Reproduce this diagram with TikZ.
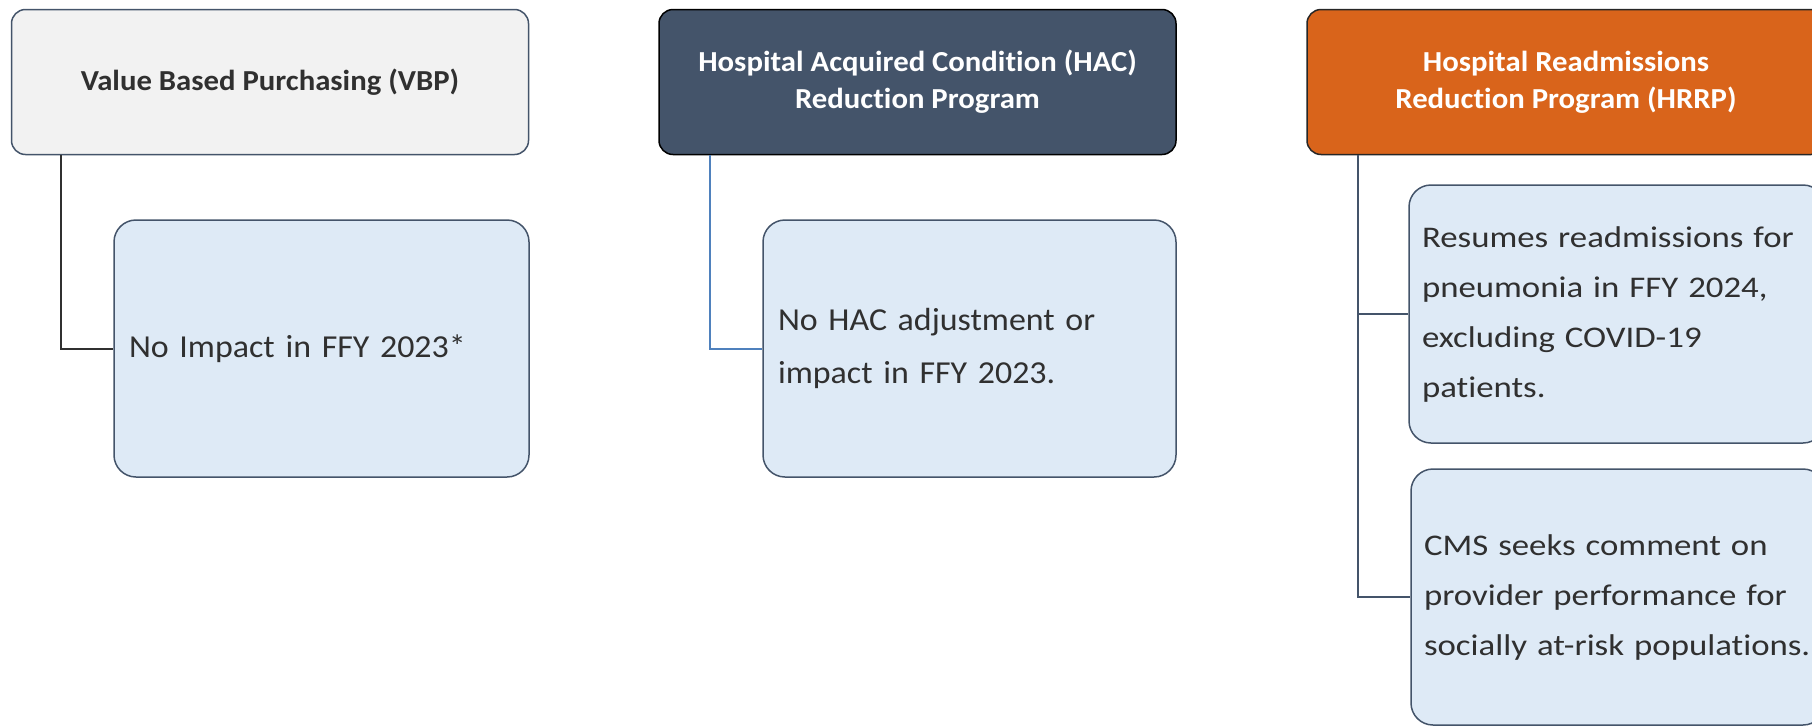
\documentclass[tikz,border=0pt]{standalone}
\usepackage{fontspec}
\setmainfont{Carlito}[Ligatures=NoCommon]
\newfontfamily\plainwide{Carlito}[FakeStretch=1.06, Ligatures=NoCommon]
\newfontfamily\extrawide{Carlito}[FakeStretch=1.16, Ligatures=NoCommon]
\usepackage{xcolor}
\usetikzlibrary{positioning}

\definecolor{slate}{HTML}{44546A}
\definecolor{paleblue}{HTML}{DEEAF6}
\definecolor{palegray}{HTML}{F2F2F2}
\definecolor{burnt}{HTML}{D9641B}
\definecolor{ink}{HTML}{303030}
\definecolor{hacblue}{HTML}{4F81BD}

\tikzset{
  headbox/.style={draw, rounded corners=14pt, line width=1.5pt, minimum height=145pt,
    align=center, font=\plainwide\bfseries\fontsize{29}{37}\selectfont},
  leafbox/.style={draw=slate, fill=paleblue, rounded corners=22pt, line width=1.5pt,
    text=ink, align=left, inner xsep=15pt, font=\plainwide\fontsize{32}{53}\selectfont},
  wideleaf/.style={leafbox, inner xsep=13pt, font=\extrawide\fontsize{30}{50}\selectfont},
  branch/.style={line width=2pt}
}

\begin{document}
\begin{tikzpicture}[x=1pt,y=-1pt]
  \clip (0,0) rectangle (1812,726);
  \useasboundingbox (0,0) rectangle (1812,726);

  % top row
  \node[headbox, draw=slate, fill=palegray, text=ink, minimum width=517pt] (vbp) at (270,82)
    {Value Based Purchasing (VBP)};
  \node[headbox, draw=black, fill=slate, text=white, minimum width=517pt] (hac) at (917.5,82)
    {Hospital Acquired Condition (HAC)\\Reduction Program};
  \node[headbox, draw=black!85, fill=burnt, text=white, minimum width=518pt] (hrrp) at (1566,82)
    {Hospital Readmissions\\Reduction Program (HRRP)};

  % leaves
  \node[leafbox, minimum width=415pt, minimum height=257pt, text width=385pt] (vbpleaf) at (321.5,348.5)
    {No Impact in FFY 2023*};
  \node[leafbox, minimum width=413pt, minimum height=257pt, text width=383pt] (hacleaf) at (969.5,348.5)
    {No HAC adjustment or\\impact in FFY 2023.};
  \node[wideleaf, minimum width=416pt, minimum height=258pt, text width=390pt] (hrrpa) at (1617,314)
    {Resumes readmissions for\\pneumonia in FFY 2024,\\excluding COVID-19\\patients.};
  \node[wideleaf, minimum width=414pt, minimum height=256pt, text width=388pt] (hrrpb) at (1618,597)
    {CMS seeks comment on\\provider performance for\\socially at-risk populations.};

  % connectors
  \draw[branch, draw=ink] (vbp.south west) ++(50,0) |- (vbpleaf.west);
  \draw[branch, draw=hacblue] (hac.south west) ++(52,0) |- (hacleaf.west);
  \draw[branch, draw=slate] (hrrp.south west) ++(52,0) |- (hrrpa.west);
  \draw[branch, draw=slate] (hrrp.south west) ++(52,0) |- (hrrpb.west);
\end{tikzpicture}
\end{document}
